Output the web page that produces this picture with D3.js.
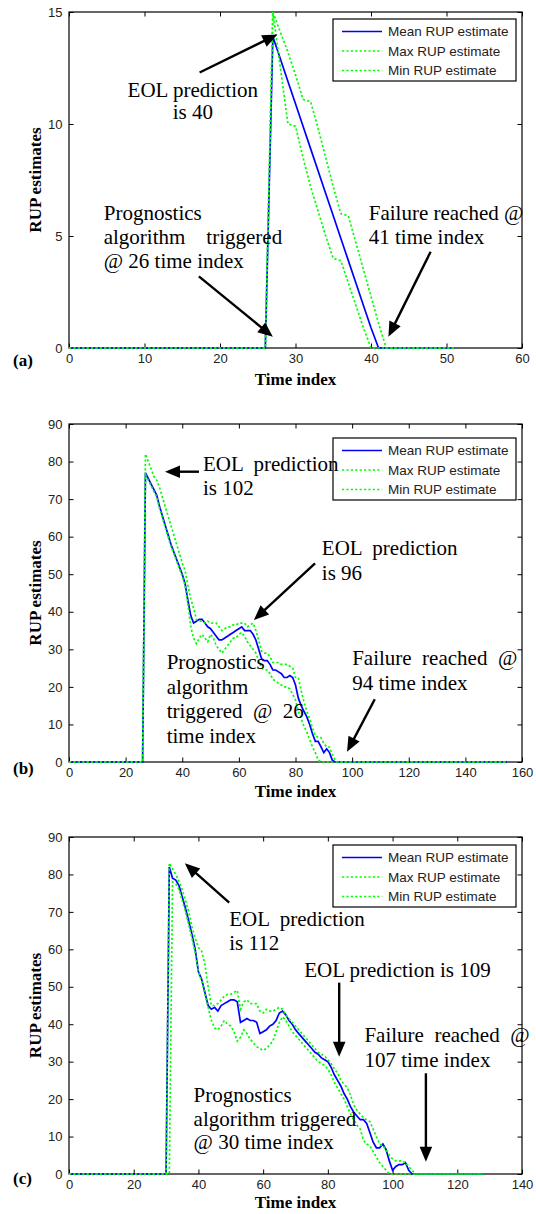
<!DOCTYPE html>
<html>
<head>
<meta charset="utf-8">
<script src="https://cdn.jsdelivr.net/npm/d3@7"></script>
<style>
  body { margin: 0; background: #fff; }
  .tick text { font-family: "Liberation Sans", Arial, sans-serif; font-size: 13px; fill: #222; }
  .note { font-family: "Liberation Serif", "Times New Roman", serif; font-size: 21px; white-space: pre; }
  .lab { font-family: "Liberation Serif", "Times New Roman", serif; font-weight: bold; font-size: 17px; }
  .leg { font-family: "Liberation Sans", Arial, sans-serif; font-size: 13.5px; fill: #222; }
</style>
</head>
<body>
<svg id="chart" width="536" height="1214"></svg>
<script>
const legendLabels = ['Mean RUP estimate', 'Max RUP estimate', 'Min RUP estimate'];

// (a) values at each time index, from the given start index
const ticksXA = [0, 10, 20, 30, 40, 50, 60];
const ticksYA = [0, 5, 10, 15];
const meanA = [0, 13.9, 12.9, 11.9, 10.9, 9.9, 8.9, 7.9, 6.9, 5.9, 4.9, 3.9, 2.9, 1.9, 0.9, 0];
const maxA = [0, 15, 14.1, 13.2, 12.2, 11.1, 11, 9.8, 8.5, 7.2, 6, 5.9, 4.7, 3.5, 2.3, 1.1, 0];
const minA = [0, 15, 12.5, 10, 9.9, 8.5, 7.2, 6.1, 5, 4, 3.9, 2.9, 1.9, 0.9, 0];
const startA = [26, 26, 26];
const endA = 51;

// (b)
const ticksXB = [0, 20, 40, 60, 80, 100, 120, 140, 160];
const ticksYB = [0, 10, 20, 30, 40, 50, 60, 70, 80, 90];
const meanB = [0, 77, 75.5, 74, 72.5, 71, 68, 65.5, 63, 60.5, 58, 56, 54, 52, 50, 47.5, 43, 39, 37, 37.5,
  38, 38, 37, 36, 35.5, 34.5, 33.5, 32.5, 32.5, 33, 33.5, 34, 34.5, 35, 35.5, 36, 35, 35, 35, 34,
  32.5, 30, 27.5, 27, 27, 26, 24.5, 24.5, 24, 23.5, 22.5, 22.5, 23, 22.5, 20.5, 17, 15, 13.5, 12, 10,
  7.5, 5.5, 5.5, 4, 2.5, 3.5, 2.5, 0.5, 0];
const maxB = [0, 82, 80, 78, 76, 75, 73, 70.5, 68, 65.5, 63, 60.5, 58, 55.5, 53, 51, 47, 43.5, 41, 38,
  37.5, 37.5, 37, 37.5, 37, 37, 37, 36, 35, 35.5, 36, 36, 36.5, 36.5, 37, 37, 37, 36, 36.5, 37,
  35, 32.5, 29.5, 29, 29, 28, 26.5, 26.5, 26.5, 26, 26, 26, 25.5, 25, 22.5, 22.5, 19, 16, 13.5, 11.5,
  9, 7, 6.5, 6.5, 5, 4, 4, 2, 0.5, 0];
const minB = [0, 76.5, 75, 73.5, 72, 70.5, 67.5, 65, 62.5, 60, 57.5, 55.5, 53.5, 51.5, 49.5, 47, 42, 36, 33, 31.5,
  33, 34, 33, 32, 34, 33, 31, 30, 29, 30, 31, 32, 33, 33, 34, 34.5, 33.5, 32, 31, 30,
  29, 27, 25, 24.5, 24.5, 23.5, 22, 21.5, 21, 20.5, 20, 20, 19.5, 18, 16.5, 13.5, 11.5, 9.5, 8, 6,
  4, 2.5, 0.5, 0];
const startB = [26, 26, 26];
const endB = 155;

// (c)
const ticksXC = [0, 20, 40, 60, 80, 100, 120, 140];
const ticksYC = [0, 10, 20, 30, 40, 50, 60, 70, 80, 90];
const meanC = [0, 82, 79, 78.5, 77, 74, 71, 67.5, 64, 60, 54, 52, 48.5, 45, 44, 44.5, 43.5, 45, 45.5, 46,
  46.5, 46.5, 46, 40.5, 41, 41.5, 41, 41, 40.5, 37.5, 38, 38.5, 39.5, 40, 41, 43, 43.5, 42.5, 41, 40,
  38.5, 37.5, 36.5, 35.5, 34.5, 33.5, 32.5, 32, 31, 30.5, 30, 28.5, 26.5, 25, 23.5, 21.5, 20, 18, 16.5, 15.5,
  14.5, 14.5, 13.5, 11, 8.5, 7, 7, 8, 6.5, 3.5, 1, 2, 2.5, 2.5, 3, 1, 0];
const maxC = [0, 83, 81.5, 80, 78, 76, 73, 70, 66, 63, 60.5, 59.5, 56, 50, 45, 45, 45.5, 46.5, 47.5, 48,
  48, 48.5, 49, 44, 46, 46.5, 45.5, 45.5, 45.5, 43.5, 43, 44, 43.5, 43.5, 44, 44.5, 44, 42.5, 41.5, 40.5,
  39.5, 38.5, 37.5, 36.5, 35.5, 34.5, 33.5, 32.5, 32, 31.5, 30.5, 29.5, 28, 27, 25, 24, 23, 21, 18.5, 17,
  16, 15, 14.5, 14, 12, 10, 8, 7.5, 6.5, 5, 4, 3.5, 3.5, 3.5, 3, 2, 1, 0];
const minC = [0, 78, 77.5, 76, 73, 70, 66.5, 63, 59, 54, 51.5, 48, 44.5, 41, 39, 38.5, 39.5, 41, 40, 39.5,
  38, 35.5, 36.5, 38.5, 37.5, 36, 35, 34, 33.5, 33, 33.5, 34.5, 35.5, 38, 40.5, 42, 41, 39.5, 38, 37,
  36, 35, 34, 33, 32, 31, 30, 29.5, 29, 28, 26.5, 24.5, 23, 21.5, 20, 18, 16, 14.5, 13, 12,
  9, 8, 7.5, 6, 4.5, 3, 2, 1, 0];
const startC = [30, 30, 31];
const endC = 128;

// annotations in data units: text anchor point and arrows [from, to]
const notesA = [
  { lines: ['EOL prediction', 'is 40'], at: [16.4, 11.2], anchor: 'middle', lh: 22 },
  { lines: ['Prognostics', 'algorithm    triggered', '@ 26 time index'], at: [4.6, 5.7], anchor: 'start', lh: 24 },
  { lines: ['Failure reached @', '41 time index'], at: [39.7, 5.7], anchor: 'start', lh: 24 }
];
const arrowsA = [[[17.3, 12.3], [27.6, 14.0]], [[17.2, 3.2], [27.0, 0.5]], [[47.9, 4.3], [42.3, 0.5]]];

const notesB = [
  { lines: ['EOL  prediction', 'is 102'], at: [47.3, 77.6], anchor: 'start', lh: 24 },
  { lines: ['EOL  prediction', 'is 96'], at: [89.3, 55.1], anchor: 'start', lh: 25 },
  { lines: ['Prognostics', 'algorithm', 'triggered  @  26', 'time index'], at: [34.5, 24.7], anchor: 'start', lh: 24.5 },
  { lines: ['Failure  reached  @', '94 time index'], at: [100, 25.8], anchor: 'start', lh: 25 }
];
const arrowsB = [[[45.9, 77.3], [33.9, 77.3]], [[86.9, 52.9], [65.3, 37.8]], [[108, 16.7], [98.2, 2.7]]];

const notesC = [
  { lines: ['EOL  prediction', 'is 112'], at: [49.5, 66.1], anchor: 'start', lh: 24 },
  { lines: ['EOL prediction is 109'], at: [72.7, 52.7], anchor: 'start', lh: 24 },
  { lines: ['Failure  reached  @', '107 time index'], at: [91.3, 35.3], anchor: 'start', lh: 25 },
  { lines: ['Prognostics', 'algorithm triggered', '@ 30 time index'], at: [38.5, 19.3], anchor: 'start', lh: 23.8 }
];
const arrowsC = [[[49.5, 72.5], [35.8, 83.0]], [[83.5, 51.1], [83.5, 31.3]], [[110.3, 26.9], [110.3, 3.3]]];

const plotLeft = 69, plotRight = 522;
const panels = [
  { label: '(a)', top: 12, bottom: 348, xMax: 60, yMax: 15, xTicks: ticksXA, yTicks: ticksYA,
    series: [meanA, maxA, minA], starts: startA, end: endA, notes: notesA, arrows: arrowsA,
    legendTop: 19, labelY: 366, titleY: 385 },
  { label: '(b)', top: 424, bottom: 762, xMax: 160, yMax: 90, xTicks: ticksXB, yTicks: ticksYB,
    series: [meanB, maxB, minB], starts: startB, end: endB, notes: notesB, arrows: arrowsB,
    legendTop: 438, labelY: 774, titleY: 797 },
  { label: '(c)', top: 837, bottom: 1174, xMax: 140, yMax: 90, xTicks: ticksXC, yTicks: ticksYC,
    series: [meanC, maxC, minC], starts: startC, end: endC, notes: notesC, arrows: arrowsC,
    legendTop: 845, labelY: 1184, titleY: 1208 }
];

const styles = [
  { color: '#0000ff', dash: null },
  { color: '#00ff00', dash: '2.2,2.2' },
  { color: '#00ff00', dash: '2.2,2.2' }
];

const svg = d3.select('#chart');

function buildSeries(start, values, end) {
  const pts = [[0, 0]];
  values.forEach((v, i) => pts.push([start + i, v]));
  pts.push([end, 0]);
  return pts;
}

function drawArrow(g, x1, y1, x2, y2) {
  const len = Math.hypot(x2 - x1, y2 - y1);
  const ux = (x2 - x1) / len, uy = (y2 - y1) / len;
  const headLen = 15, headHalf = 6.3;
  const bx = x2 - ux * headLen, by = y2 - uy * headLen;
  g.append('line')
    .attr('x1', x1).attr('y1', y1)
    .attr('x2', bx + ux * 2).attr('y2', by + uy * 2)
    .attr('stroke', '#000').attr('stroke-width', 2.4);
  g.append('path')
    .attr('d', `M${x2},${y2}L${bx - uy * headHalf},${by + ux * headHalf}L${bx + uy * headHalf},${by - ux * headHalf}Z`)
    .attr('fill', '#000');
}

function drawPanel(p) {
  const x = d3.scaleLinear().domain([0, p.xMax]).range([plotLeft, plotRight]);
  const y = d3.scaleLinear().domain([0, p.yMax]).range([p.bottom, p.top]);
  const g = svg.append('g');

  g.append('g').attr('transform', `translate(0,${p.bottom})`)
    .call(d3.axisBottom(x).tickValues(p.xTicks).tickSize(-4.5).tickSizeOuter(0).tickPadding(5.5));
  g.append('g').attr('transform', `translate(0,${p.top})`)
    .call(d3.axisTop(x).tickValues(p.xTicks).tickSize(-4.5).tickSizeOuter(0).tickFormat(''));
  g.append('g').attr('transform', `translate(${plotLeft},0)`)
    .call(d3.axisLeft(y).tickValues(p.yTicks).tickSize(-4.5).tickSizeOuter(0).tickPadding(6.5));
  g.append('g').attr('transform', `translate(${plotRight},0)`)
    .call(d3.axisRight(y).tickValues(p.yTicks).tickSize(-4.5).tickSizeOuter(0).tickFormat(''));
  g.selectAll('.domain').remove();

  g.append('rect')
    .attr('x', plotLeft).attr('y', p.top)
    .attr('width', plotRight - plotLeft).attr('height', p.bottom - p.top)
    .attr('fill', 'none').attr('stroke', '#000').attr('stroke-width', 1.2);

  const line = d3.line().x(d => x(d[0])).y(d => y(d[1]));
  p.series.forEach((vals, i) => {
    g.append('path')
      .datum(buildSeries(p.starts[i], vals, p.end))
      .attr('d', line)
      .attr('fill', 'none')
      .attr('stroke', styles[i].color)
      .attr('stroke-width', 1.7)
      .attr('stroke-dasharray', styles[i].dash);
  });

  // legend
  const lx = 333, lw = 183, lt = p.legendTop;
  const leg = g.append('g');
  leg.append('rect').attr('x', lx).attr('y', lt).attr('width', lw).attr('height', 62)
    .attr('fill', '#fff').attr('stroke', '#000').attr('stroke-width', 1.2);
  legendLabels.forEach((name, i) => {
    const ry = lt + 12.5 + i * 19.5;
    leg.append('line').attr('x1', lx + 9).attr('x2', lx + 49).attr('y1', ry).attr('y2', ry)
      .attr('stroke', styles[i].color).attr('stroke-width', 1.7)
      .attr('stroke-dasharray', styles[i].dash);
    leg.append('text').attr('class', 'leg').attr('x', lx + 55).attr('y', ry + 4.8).text(name);
  });

  // annotations
  p.notes.forEach(n => {
    const t = g.append('text').attr('class', 'note')
      .attr('xml:space', 'preserve')
      .attr('text-anchor', n.anchor)
      .attr('x', x(n.at[0])).attr('y', y(n.at[1]));
    n.lines.forEach((s, i) => {
      t.append('tspan').attr('x', x(n.at[0])).attr('dy', i === 0 ? 0 : n.lh).text(s);
    });
  });
  p.arrows.forEach(a => drawArrow(g, x(a[0][0]), y(a[0][1]), x(a[1][0]), y(a[1][1])));

  // axis titles and panel label
  g.append('text').attr('class', 'lab').attr('text-anchor', 'middle')
    .attr('x', (plotLeft + plotRight) / 2).attr('y', p.titleY).text('Time index');
  g.append('text').attr('class', 'lab').attr('text-anchor', 'middle')
    .attr('transform', `translate(41,${(p.top + p.bottom) / 2}) rotate(-90)`).text('RUP estimates');
  g.append('text').attr('class', 'lab').attr('x', 13).attr('y', p.labelY).text(p.label);
}

panels.forEach(drawPanel);
</script>
</body>
</html>
